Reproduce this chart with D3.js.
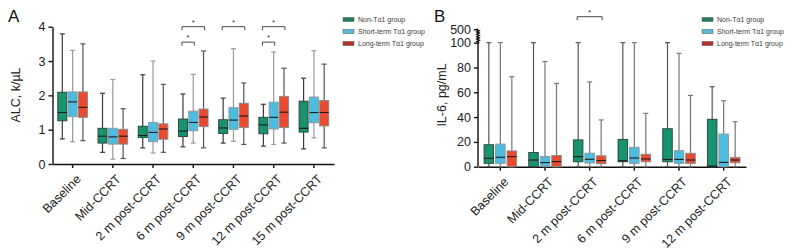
<!DOCTYPE html>
<html>
<head>
<meta charset="UTF-8">
<title>ALC and IL-6 box plots</title>
<script src="https://cdn.jsdelivr.net/npm/d3@7"></script>
<style>
body { margin: 0; background: #fff; }
svg { display: block; font-family: "Liberation Sans", Arial, sans-serif; }
.axis path, .axis line { stroke: #111; stroke-width: 1.4; }
.axis text { font-size: 12.5px; fill: #222; }
.xaxis text { font-size: 12.5px; }
</style>
</head>
<body>
<div id="chart"></div>
<script>
// categories
var catsA = ["Baseline", "Mid-CCRT", "2 m post-CCRT", "6 m post-CCRT", "9 m post-CCRT", "12 m post-CCRT", "15 m post-CCRT"];
var catsB = ["Baseline", "Mid-CCRT", "2 m post-CCRT", "6 m post-CCRT", "9 m post-CCRT", "12 m post-CCRT"];
var groups = ["Non-Tα1 group", "Short-term Tα1 group", "Long-term Tα1 group"];

// ALC, k/µL : [min, q1, median, q3, max]
var alcNon = [[0.73,1.26,1.5,2.09,3.79],[0.34,0.61,0.81,1.04,2.06],[0.47,0.77,0.83,1.1,2.6],[0.5,0.8,0.96,1.31,2.04],[0.61,0.89,1.05,1.29,1.92],[0.52,0.88,1.14,1.36,1.74],[0.44,0.93,1.04,1.83,2.5]];
var alcShort = [[0.65,1.38,1.81,2.1,3.31],[0.14,0.58,0.79,1.04,2.46],[0.32,0.65,0.92,1.21,3.0],[0.61,0.97,1.21,1.54,2.61],[0.66,1.01,1.28,1.64,3.36],[0.57,1.02,1.36,1.8,3.26],[0.76,1.2,1.5,1.95,3.3]];
var alcLong = [[0.68,1.36,1.65,2.1,3.5],[0.16,0.58,0.81,1.01,1.61],[0.34,0.72,1.02,1.17,2.32],[0.47,1.09,1.37,1.6,3.29],[0.57,1.06,1.4,1.77,2.36],[0.61,1.06,1.51,1.97,2.79],[0.47,1.11,1.5,1.85,2.91]];

// IL-6, pg/mL : [min, q1, median, q3, max]
var il6Non = [[0,2.7,6.8,17.7,101],[0,0,5.4,11.4,101],[0,4.0,8.1,21.6,101],[0,4.0,4.8,22,101],[0,4.0,5.9,30.6,101],[0,0,0.5,38.2,64.5]];
var il6Short = [[0,2.7,7.6,18.2,101],[0,0.5,3.3,8.2,84.8],[0,3.0,6.0,10.9,68.4],[0,2.7,7,15.6,101],[0,2.7,5.9,12.9,91.4],[0,0,3.5,26.3,53.2]];
var il6Long = [[0,0,8.1,12.7,72.6],[0,0,4.1,9,67.1],[0,2.4,5.0,8.8,37.7],[0,4,6.2,10,43],[0,2.7,5.4,10.8,57.5],[0,3.2,5.4,7.5,36.3]];

// y tick labels
var ticksA = [0, 1, 2, 3, 4];
var ticksB = [0, 20, 40, 60, 80, 100, 500];

// significance brackets: category, from group, to group, height (ALC units)
var sigA = [["6 m post-CCRT",0,2,4.0],["6 m post-CCRT",0,1,3.55],["9 m post-CCRT",0,2,4.0],["12 m post-CCRT",0,2,4.0],["12 m post-CCRT",0,1,3.55]];
var sigB = [["2 m post-CCRT",0,2]];

var fills = ["#19936f", "#4cbde0", "#ec4a2f"];
var boxStroke = ["#2b4a40", "#8a9aa0", "#8a8a8a"];
var whiskA = ["#3a3a3a", "#9a9a9a", "#555"];
var legFill = ["#1d7c5e", "#58b6d6", "#b5312a"];

var svg = d3.select("#chart").append("svg").attr("width", 792).attr("height", 252);

function drawBoxes(g, cats, series, x, y, offs, bw, whisk, strokes) {
  series.forEach(function(data, gi) {
    var sel = g.selectAll(".b" + gi).data(data).enter().append("g");
    var cx = function(d, i) { return x(cats[i]) + x.bandwidth() / 2 + offs[gi]; };
    sel.append("line")
      .attr("x1", cx).attr("x2", cx)
      .attr("y1", function(d) { return y(d[4]); }).attr("y2", function(d) { return y(d[0]); })
      .attr("stroke", whisk[gi]).attr("stroke-width", 1.2);
    [0, 4].forEach(function(k) {
      sel.append("line")
        .attr("x1", function(d, i) { return cx(d, i) - 2.5; })
        .attr("x2", function(d, i) { return cx(d, i) + 2.5; })
        .attr("y1", function(d) { return y(d[k]); }).attr("y2", function(d) { return y(d[k]); })
        .attr("stroke", whisk[gi]).attr("stroke-width", 1.2);
    });
    sel.append("rect")
      .attr("x", function(d, i) { return cx(d, i) - bw / 2; })
      .attr("width", bw)
      .attr("y", function(d) { return y(d[3]); })
      .attr("height", function(d) { return Math.max(0.5, y(d[1]) - y(d[3])); })
      .attr("fill", fills[gi]).attr("stroke", strokes[gi]).attr("stroke-width", 1);
    sel.append("line")
      .attr("x1", function(d, i) { return cx(d, i) - bw / 2; })
      .attr("x2", function(d, i) { return cx(d, i) + bw / 2; })
      .attr("y1", function(d) { return y(d[2]); }).attr("y2", function(d) { return y(d[2]); })
      .attr("stroke", "#1a1a1a").attr("stroke-width", 1.1);
  });
}

function bracket(g, x1, x2, yy) {
  g.append("path")
    .attr("d", "M" + x1 + "," + (yy + 3.5) + "V" + yy + "H" + x2 + "V" + (yy + 3.5))
    .attr("fill", "none").attr("stroke", "#333").attr("stroke-width", 0.9);
  g.append("text").attr("x", (x1 + x2) / 2).attr("y", yy - 2)
    .attr("text-anchor", "middle").style("font-size", "8px").attr("fill", "#333").text("*");
}

function legend(g, lx, ly) {
  groups.forEach(function(name, i) {
    var r = g.append("g").attr("transform", "translate(" + lx + "," + (ly + i * 12) + ")");
    r.append("rect").attr("x", 0).attr("y", -2).attr("width", 11).attr("height", 4)
      .attr("fill", legFill[i]).attr("stroke", "#555").attr("stroke-width", 0.5);
    r.append("text").attr("x", 15).attr("y", 2.5)
      .style("font-size", "7px").style("fill", "#3a3a3a").text(name);
  });
}

function xLabels(axisG) {
  axisG.selectAll("text")
    .attr("text-anchor", "end")
    .attr("dx", 0).attr("dy", 0)
    .attr("transform", "translate(4,11) rotate(-45)");
}

// ---------- Panel A ----------
var xA = d3.scaleBand().domain(catsA).range([52.5, 334]);
var yA = d3.scaleLinear().domain([0, 4]).range([164, 26.7]);
var gA = svg.append("g");

gA.append("g").attr("class", "axis").attr("transform", "translate(52.5,0)")
  .call(d3.axisLeft(yA).tickValues(ticksA).tickFormat(d3.format("d")).tickSize(4).tickSizeOuter(0).tickPadding(3));
var axA = gA.append("g").attr("class", "axis xaxis").attr("transform", "translate(0,164)")
  .call(d3.axisBottom(xA).tickSize(4).tickSizeOuter(0));
xLabels(axA);

drawBoxes(gA, catsA, [alcNon, alcShort, alcLong], xA, yA, [-10.3, 0, 10.3], 9, whiskA, boxStroke);

sigA.forEach(function(s) {
  var c = xA(s[0]) + xA.bandwidth() / 2;
  var o = [-10.3, 0, 10.3];
  bracket(gA, c + o[s[1]] - 1, c + o[s[2]] + 1, yA(s[3]));
});

gA.append("text").attr("transform", "translate(20,95) rotate(-90)")
  .attr("text-anchor", "middle").style("font-size", "12.5px").attr("fill", "#222").text("ALC, k/µL");
gA.append("text").attr("x", 8).attr("y", 22).style("font-size", "17px").attr("fill", "#111").text("A");
legend(gA, 343, 19.5);

// ---------- Panel B ----------
var xB = d3.scaleBand().domain(catsB).range([478, 746]);
var yB = d3.scaleLinear().domain([0, 100, 500]).range([166.7, 42.7, 29.3]);
var gB = svg.append("g");

var ayB = gB.append("g").attr("class", "axis").attr("transform", "translate(478,0)")
  .call(d3.axisLeft(yB).tickValues(ticksB).tickSize(4).tickSizeOuter(0).tickPadding(3));
ayB.select(".domain").remove();
var zz = "M0," + yB(0) + "V" + yB(100);
for (var yy = yB(100), k = 0; yy > yB(500); yy -= 1.2, k++) {
  zz += "L" + (k % 2 ? -1.2 : 1.2) + "," + yy;
}
zz += "L0," + yB(500);
ayB.append("path").attr("d", zz).attr("fill", "none").attr("stroke", "#111").attr("stroke-width", 1.2);

var axB = gB.append("g").attr("class", "axis xaxis").attr("transform", "translate(0,166.7)")
  .call(d3.axisBottom(xB).tickSize(4).tickSizeOuter(0));
xLabels(axB);

drawBoxes(gB, catsB, [il6Non, il6Short, il6Long], xB, yB, [-11.5, 0, 11.5], 9.5, ["#555", "#777", "#777"], boxStroke);

sigB.forEach(function(s) {
  var c = xB(s[0]) + xB.bandwidth() / 2;
  var o = [-11.5, 0, 11.5];
  bracket(gB, c + o[s[1]] - 1, c + o[s[2]] + 1, yB(500) - 12.6);
});

gB.append("text").attr("transform", "translate(446,95) rotate(-90)")
  .attr("text-anchor", "middle").style("font-size", "12.5px").attr("fill", "#222").text("IL-6, pg/mL");
gB.append("text").attr("x", 434).attr("y", 22).style("font-size", "17px").attr("fill", "#111").text("B");
legend(gB, 702, 19.5);
</script>
</body>
</html>
